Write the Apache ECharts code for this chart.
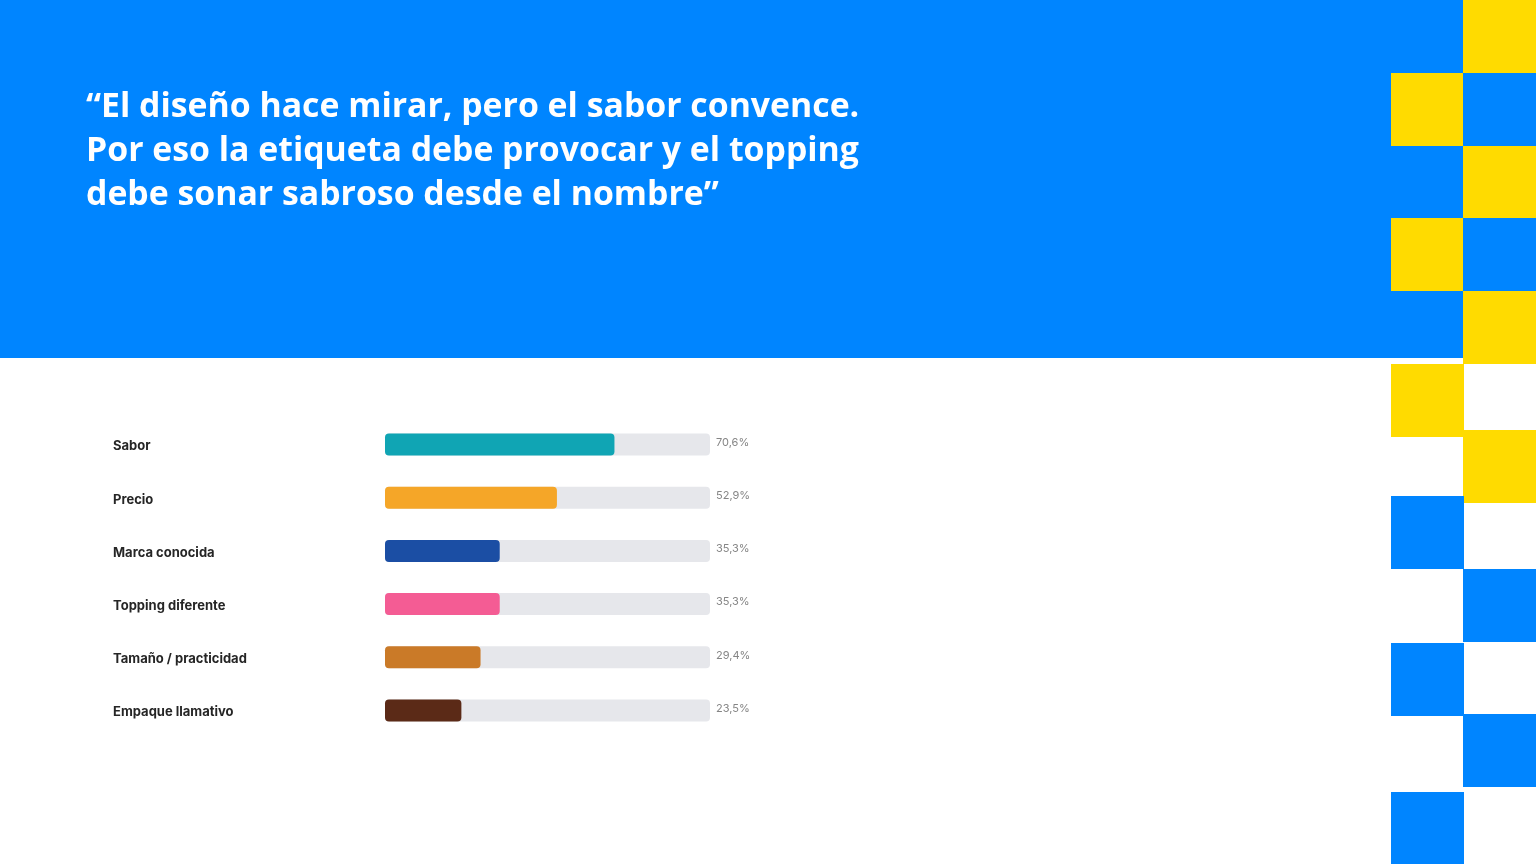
<!DOCTYPE html>
<html>
<head>
<meta charset="utf-8">
<script src="https://cdn.jsdelivr.net/npm/echarts@6/dist/echarts.min.js"></script>
<style>
  html, body { margin: 0; padding: 0; background: #ffffff; }
  #view { width: 1536px; height: 864px; }
</style>
</head>
<body>
<div id="view"></div>
<script>
// chart data
const categories = [
  "Sabor",
  "Precio",
  "Marca conocida",
  "Topping diferente",
  "Tamaño / practicidad",
  "Empaque llamativo",
];
const values = [70.6, 52.9, 35.3, 35.3, 29.4, 23.5];
const barColors = ["#10a5b4", "#f5a628", "#1b4ea4", "#f45c94", "#ca7a28", "#5b2a17"];
const trackMax = 100;

const quoteLines = [
  "“El diseño hace mirar, pero el sabor convence.",
  "Por eso la etiqueta debe provocar y el topping",
  "debe sonar sabroso desde el nombre”",
];

// decoration squares on the right [x, y, color]
const BLUE = "#0085ff";
const YELLOW = "#ffdb00";
const squares = [
  [1463, 0, YELLOW], [1391, 73, YELLOW], [1463, 145, YELLOW], [1391, 218, YELLOW],
  [1463, 291, YELLOW], [1391, 364, YELLOW], [1463, 430, YELLOW],
  [1391, 496, BLUE], [1463, 569, BLUE], [1391, 643, BLUE], [1463, 714, BLUE], [1391, 792, BLUE],
  [1463, 73, BLUE], [1463, 218, BLUE],
];

let myChart = echarts.init(document.getElementById("view"), null, { renderer: "canvas" });

let graphics = [
  {
    type: "rect",
    shape: { x: 0, y: 0, width: 1463, height: 358 },
    style: { fill: BLUE },
    silent: true,
  },
];
squares.forEach((s) => {
  graphics.push({
    type: "rect",
    shape: { x: s[0], y: s[1], width: 73, height: 73 },
    style: { fill: s[2] },
    silent: true,
  });
});
quoteLines.forEach((line, i) => {
  graphics.push({
    type: "text",
    x: 86,
    y: 90 + i * 44,
    style: {
      text: line,
      fill: "#ffffff",
      font: "bold 33.8px 'Open Sans', sans-serif",
    },
    silent: true,
  });
});

let option = {
  animation: false,
  backgroundColor: "#ffffff",
  graphic: graphics,
  grid: {
    left: 385,
    width: 325,
    top: 418,
    height: 319,
  },
  xAxis: {
    type: "value",
    min: 0,
    max: trackMax,
    show: false,
  },
  yAxis: {
    type: "category",
    inverse: true,
    data: categories,
    axisLine: { show: false },
    axisTick: { show: false },
    splitLine: { show: false },
    axisLabel: {
      align: "left",
      verticalAlign: "top",
      lineHeight: 4,
      margin: 272,
      color: "#262626",
      fontWeight: "bold",
      fontSize: 13,
      fontFamily: "Inter",
    },
  },
  series: [
    {
      name: "track",
      type: "bar",
      barWidth: 22,
      barGap: "-100%",
      silent: true,
      data: categories.map(() => trackMax),
      itemStyle: { color: "#e6e7eb", borderRadius: 4 },
      label: {
        show: true,
        position: "right",
        distance: 6,
        verticalAlign: "bottom",
        lineHeight: 4,
        color: "#858585",
        fontSize: 11,
        fontFamily: "Inter",
        formatter: (p) => values[p.dataIndex].toFixed(1).replace(".", ",") + "%",
      },
      z: 1,
    },
    {
      name: "value",
      type: "bar",
      barWidth: 22,
      barGap: "-100%",
      data: values.map((v, i) => ({ value: v, itemStyle: { color: barColors[i] } })),
      itemStyle: { borderRadius: 4 },
      z: 2,
    },
  ],
};
myChart.setOption(option);
</script>
</body>
</html>
